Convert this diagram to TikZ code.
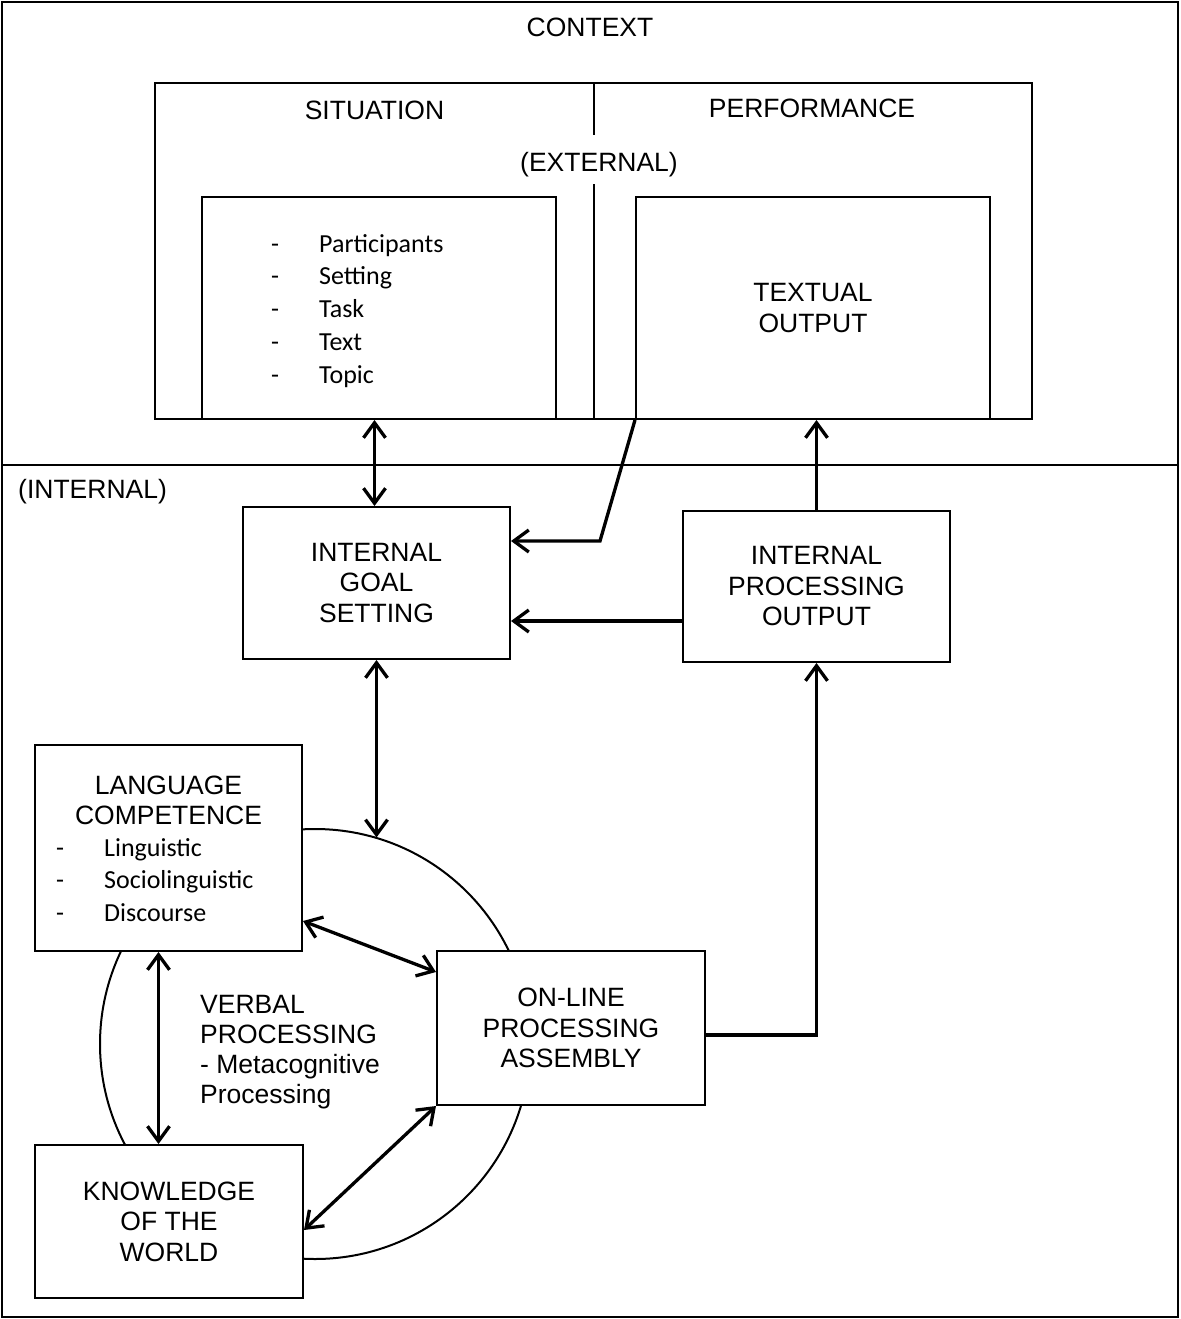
\documentclass[tikz,border=0pt]{standalone}
\usepackage{fontspec}
\setmainfont{Liberation Sans}
\newfontfamily\calibrifont{Carlito}
\usetikzlibrary{arrows.meta}
\begin{document}
\begin{tikzpicture}[x=1pt,y=-1pt,
 box/.style={draw, line width=2pt, fill=white, inner sep=0pt},
 lbl/.style={font=\fontsize{26.5}{30.5}\selectfont, align=center, inner sep=0pt},
 lst/.style={font=\calibrifont\fontsize{26}{32.7}\selectfont, inner sep=0pt},
 con/.style={line width=3.3pt, -{Straight Barb[length=15pt,width=22pt]}},
 dcon/.style={line width=3.3pt, {Straight Barb[length=15pt,width=22pt]}-{Straight Barb[length=15pt,width=22pt]}},
]
\useasboundingbox (0,0) rectangle (1180,1319);
% outer frame
\node[box, minimum width=1176pt, minimum height=1315pt] (frame) at (590,659.5) {};
\coordinate (split) at (0,465);
\draw[line width=2pt] (frame.west |- split) -- (frame.east |- split);
\node[lbl] (ctx) at (590,27) {CONTEXT};
\node[lbl, anchor=west] (int) at (18,492) {(INTERNAL)};
% external boxes
\node[box, minimum width=439pt, minimum height=336pt] (sit) at (374.5,251) {};
\node[box, minimum width=438pt, minimum height=336pt] (perf) at (813,251) {};
\node[lbl] (sitl) at (374.5,110) {SITUATION};
\node[lbl] (perfl) at (812,108) {PERFORMANCE};
\node[lbl, anchor=base, fill=white, text height=36.5pt, text depth=12.5pt, inner xsep=2pt] (ext) at (599,171.5) {(EXTERNAL)};
\node[box, minimum width=354pt, minimum height=222pt] (sitin) at (379,308) {};
\node[box, lbl, minimum width=354pt, minimum height=222pt] (perfin) at (813,308) {TEXTUAL\\OUTPUT};
\foreach \t [count=\i] in {Participants,Setting,Task,Text,Topic}{
  \node[lst, anchor=base west] (sd\i) at (271,{252+32.75*(\i-1)}) {-};
  \node[lst, anchor=base west] (st\i) at (319,{252+32.75*(\i-1)}) {\t};
}
% cycle
\node[draw, circle, line width=2pt, minimum size=430pt, inner sep=0pt] (cyc) at (315,1044) {};
% internal boxes
\node[box, lbl, minimum width=267pt, minimum height=152pt] (igs) at (376.5,583) {INTERNAL\\GOAL\\SETTING};
\node[box, lbl, minimum width=267pt, minimum height=151pt] (ipo) at (816.5,586.5) {INTERNAL\\PROCESSING\\OUTPUT};
\node[box, minimum width=267pt, minimum height=206pt] (lc) at (168.5,848) {};
\node[lbl, anchor=base] (lc1) at (168.5,794) {LANGUAGE};
\node[lbl, anchor=base] (lc2) at (168.5,824) {COMPETENCE};
\foreach \t [count=\i] in {Linguistic,Sociolinguistic,Discourse}{
  \node[lst, anchor=base west] (ld\i) at (56,{856+32.5*(\i-1)}) {-};
  \node[lst, anchor=base west] (lt\i) at (104,{856+32.5*(\i-1)}) {\t};
}
\node[box, lbl, minimum width=268pt, minimum height=153pt] (kw) at (169,1221.5) {KNOWLEDGE\\OF THE\\WORLD};
\node[box, lbl, minimum width=268pt, minimum height=154pt] (olp) at (571,1028) {ON-LINE\\PROCESSING\\ASSEMBLY};
\foreach \t [count=\i] in {VERBAL,PROCESSING,- Metacognitive,Processing}{
  \node[lbl, anchor=base west] (vp\i) at (200,{1013+30*(\i-1)}) {\t};
}
% connectors
\draw[dcon] (sit.south) -- (sit.south |- igs.north);
\coordinate (bend) at (600,541);
\draw[con] (perfin.south west) -- (bend) -- (igs.east |- bend);
\draw[con] ([yshift=-34.5pt]ipo.west) -- ([yshift=-34.5pt]ipo.west -| igs.east);
\draw[con] (ipo.north) -- (ipo.north |- perfin.south);
\draw[con] ([yshift=-7pt]olp.east) -| (ipo.south);
\draw[dcon] (igs.south) -- (igs.south |- cyc.73.5);
\draw[dcon] ([yshift=-73pt]lc.east) -- ([yshift=56pt]olp.west);
\draw[dcon] ([xshift=-10pt]lc.south) -- ([xshift=-10pt]lc.south |- kw.north);
\draw[dcon] (olp.south west) -- ([yshift=-8.5pt]kw.east);
\end{tikzpicture}
\end{document}
